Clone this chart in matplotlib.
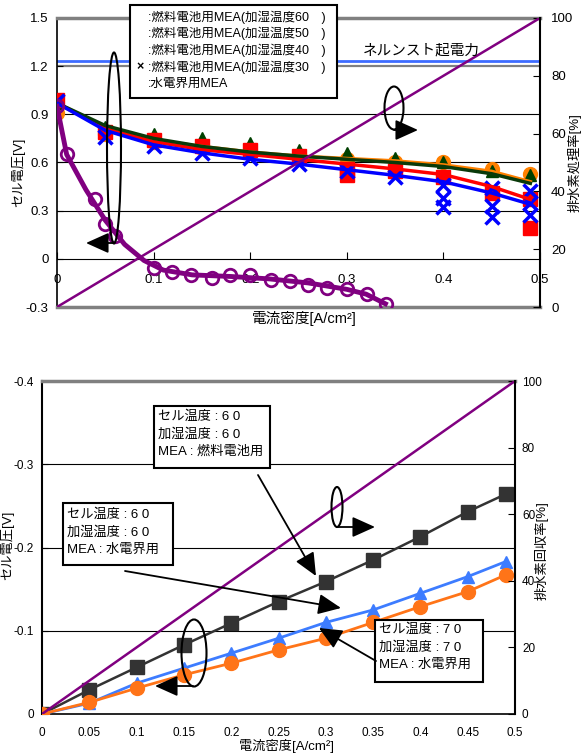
import numpy as np
import matplotlib.pyplot as plt
from matplotlib.patches import Ellipse, Rectangle, FancyArrowPatch

plt.rcParams['font.family'] = ['Liberation Sans', 'Noto Sans CJK JP']
plt.rcParams['axes.unicode_minus'] = False

W, H = 585, 756

# ---- top chart data: cell voltage vs current density ----
x_fc = [0, 0.05, 0.1, 0.15, 0.2, 0.25, 0.3, 0.35, 0.4, 0.45, 0.49]
v_hum60 = [0.91, 0.78, 0.73, 0.69, 0.67, 0.63, 0.62, 0.60, 0.60, 0.56, 0.53]
v_hum50 = [0.99, 0.79, 0.74, 0.70, 0.68, 0.64, 0.56, 0.55, 0.51, 0.41, 0.37]
v_hum40 = [0.97, 0.82, 0.78, 0.75, 0.72, 0.68, 0.66, 0.63, 0.60, 0.55, 0.52]
v_hum30 = [0.98, 0.76, 0.70, 0.66, 0.63, 0.59, 0.55, 0.51, 0.46, 0.44, 0.42]
# extra scattered points
x_hum50_extra = [0.3, 0.49]
v_hum50_extra = [0.52, 0.19]
x_hum30_extra = [0.4, 0.4, 0.45, 0.45, 0.49, 0.49]
v_hum30_extra = [0.38, 0.32, 0.33, 0.26, 0.35, 0.27]
# trend lines
fit_hum60 = [0.97, 0.82, 0.74, 0.70, 0.665, 0.64, 0.625, 0.61, 0.585, 0.545, 0.48]
fit_hum50 = [0.97, 0.81, 0.73, 0.68, 0.65, 0.62, 0.59, 0.56, 0.525, 0.45, 0.37]
fit_hum40 = [0.97, 0.83, 0.75, 0.70, 0.665, 0.64, 0.62, 0.60, 0.575, 0.53, 0.47]
fit_hum30 = [0.97, 0.80, 0.71, 0.66, 0.62, 0.59, 0.555, 0.52, 0.48, 0.41, 0.34]

x_we = [0, 0.01, 0.039, 0.05, 0.06, 0.1, 0.119, 0.139, 0.16, 0.179, 0.2,
        0.222, 0.241, 0.26, 0.28, 0.30, 0.321, 0.341]
v_we = [0.95, 0.65, 0.37, 0.22, 0.14, -0.06, -0.08, -0.10, -0.12, -0.10, -0.10,
        -0.13, -0.14, -0.16, -0.18, -0.19, -0.22, -0.28]
x_we_fit = [0, 0.01, 0.03, 0.05, 0.07, 0.09, 0.11, 0.14, 0.18, 0.22, 0.26, 0.30, 0.32, 0.34]
v_we_fit = [0.95, 0.65, 0.43, 0.24, 0.09, -0.01, -0.07, -0.10, -0.11, -0.125, -0.15,
            -0.19, -0.22, -0.28]

nernst = 1.23
x_rate = [0, 0.5]
rate = [0, 100]

legend_labels = [':燃料電池用MEA(加湿温度60\u3000)', ':燃料電池用MEA(加湿温度50\u3000)',
                 ':燃料電池用MEA(加湿温度40\u3000)', ':燃料電池用MEA(加湿温度30\u3000)',
                 ':水電界用MEA']

# ---- bottom chart data ----
x_b = [0, 0.05, 0.1, 0.15, 0.2, 0.25, 0.3, 0.35, 0.4, 0.45, 0.49]
v_fc6060 = [0, -0.029, -0.056, -0.083, -0.109, -0.135, -0.159, -0.185, -0.213, -0.243, -0.264]
v_we6060 = [0, -0.013, -0.037, -0.055, -0.073, -0.091, -0.110, -0.125, -0.145, -0.165, -0.183]
v_we7070 = [0, -0.014, -0.031, -0.047, -0.061, -0.077, -0.091, -0.110, -0.129, -0.147, -0.167]

box_texts = ['セル温度 : 6 0\n加湿温度 : 6 0\nMEA : 燃料電池用',
             'セル温度 : 6 0\n加湿温度 : 6 0\nMEA : 水電界用',
             'セル温度 : 7 0\n加湿温度 : 7 0\nMEA : 水電界用']

fig = plt.figure(figsize=(W / 100, H / 100), dpi=100)


def px_axes(l, t, r, b):
    return fig.add_axes([l / W, 1 - b / H, (r - l) / W, (b - t) / H])


# ================= top chart =================
ax1 = px_axes(57, 18, 540, 307)
ax1.set_xlim(0, 0.5)
ax1.set_ylim(-0.3, 1.5)
for y in [0.9, 0.6, 0.3]:
    ax1.axhline(y, color='black', lw=0.8, zorder=0)
ax1.axhline(1.2, color='#808080', lw=1.6, zorder=0)
ax1.axhline(-0.3, color='#808080', lw=2.5, clip_on=False, zorder=3)
ax1.axhline(nernst, color='#3d6bff', lw=2, zorder=1)

ax1.plot(x_fc, v_hum60, 'o', color='#ff8000', ms=10, zorder=2)
ax1.plot(x_fc, v_hum50, 's', color='#ff0000', ms=10, zorder=3)
ax1.plot(x_hum50_extra, v_hum50_extra, 's', color='#ff0000', ms=10, zorder=3)
ax1.plot(x_fc, v_hum40, '^', color='#004000', ms=8, zorder=2.5)
ax1.plot(x_fc, v_hum30, 'x', color='#0000ff', ms=10, mew=2.5, zorder=4)
ax1.plot(x_hum30_extra, v_hum30_extra, 'x', color='#0000ff', ms=10, mew=2.5, zorder=4)
ax1.plot(x_fc, fit_hum60, color='#ff8000', lw=2.5, zorder=5)
ax1.plot(x_fc, fit_hum50, color='#ff0000', lw=2.5, zorder=5)
ax1.plot(x_fc, fit_hum40, color='#0a3a0a', lw=2.5, zorder=5)
ax1.plot(x_fc, fit_hum30, color='#0000ff', lw=2.5, zorder=5)

ax1.plot(x_we_fit, v_we_fit, color='#800080', lw=3.5, zorder=6)
ax1.plot(x_we, v_we, 'o', mfc='none', mec='#800080', mew=2, ms=9, zorder=6)

ax1.spines['bottom'].set_position(('data', 0))
ax1.spines['top'].set_color('#808080')
ax1.spines['top'].set_linewidth(2.5)
ax1.spines['right'].set_visible(False)
ax1.spines['left'].set_linewidth(1.2)
ax1.set_xticks([0, 0.1, 0.2, 0.3, 0.4, 0.5])
ax1.set_xticklabels(['0', '0.1', '0.2', '0.3', '0.4', '0.5'])
ax1.set_yticks([-0.3, 0, 0.3, 0.6, 0.9, 1.2, 1.5])
ax1.set_yticklabels(['-0.3', '0', '0.3', '0.6', '0.9', '1.2', '1.5'])
ax1.tick_params(axis='x', direction='in', length=5, pad=11, labelsize=9.5)
ax1.tick_params(axis='y', direction='in', length=4, pad=6, labelsize=9.5)

ax1r = ax1.twinx()
ax1r.set_ylim(0, 100)
ax1r.plot(x_rate, rate, color='#800080', lw=1.8)
for s in ['top', 'bottom', 'left']:
    ax1r.spines[s].set_visible(False)
ax1r.spines['right'].set_linewidth(1.5)
ax1r.set_yticks([0, 20, 40, 60, 80, 100])
ax1r.tick_params(axis='y', direction='in', length=5, pad=8, labelsize=9.5)

# ================= bottom chart =================
ax2 = px_axes(42, 381, 515, 714)
ax2.set_xlim(0, 0.5)
ax2.set_ylim(0, -0.4)
for y in [-0.1, -0.2, -0.3]:
    ax2.axhline(y, color='black', lw=0.8, zorder=0)
ax2.plot(x_b, v_fc6060, '-s', color='#333333', lw=1.8, ms=10, zorder=3)
ax2.plot(x_b, v_we6060, '-^', color='#3d7cff', lw=2, ms=9, zorder=3)
ax2.plot(x_b, v_we7070, '-o', color='#ff7418', lw=2, ms=10, zorder=3)
ax2.spines['top'].set_color('#808080')
ax2.spines['top'].set_linewidth(2.5)
ax2.spines['right'].set_visible(False)
ax2.spines['left'].set_linewidth(1.5)
ax2.spines['bottom'].set_linewidth(1.2)
xt = [0, 0.05, 0.1, 0.15, 0.2, 0.25, 0.3, 0.35, 0.4, 0.45, 0.5]
ax2.set_xticks(xt)
ax2.set_xticklabels([f'{t:g}' for t in xt])
ax2.set_yticks([0, -0.1, -0.2, -0.3, -0.4])
ax2.set_yticklabels(['0', '-0.1', '-0.2', '-0.3', '-0.4'])
ax2.tick_params(axis='x', direction='in', length=0, pad=9, labelsize=8.5)
ax2.tick_params(axis='y', direction='in', length=4, pad=6, labelsize=8.5)

ax2r = ax2.twinx()
ax2r.set_ylim(0, 100)
ax2r.plot(x_rate, rate, color='#800080', lw=1.8)
for s in ['top', 'bottom', 'left']:
    ax2r.spines[s].set_visible(False)
ax2r.spines['right'].set_linewidth(1.5)
ax2r.set_yticks([0, 20, 40, 60, 80, 100])
ax2r.tick_params(axis='y', direction='in', length=5, pad=5, labelsize=8.5)

# ================= overlay (annotations, labels) =================
ov = fig.add_axes([0, 0, 1, 1], zorder=10)
ov.set_xlim(0, W)
ov.set_ylim(H, 0)
ov.axis('off')
ov.patch.set_alpha(0)


def arrow(p0, p1):
    ov.add_patch(FancyArrowPatch(p0, p1, arrowstyle='-|>,head_length=1.0,head_width=0.45',
                                 mutation_scale=14, color='black', lw=1.3,
                                 shrinkA=0, shrinkB=0))


def ellipse(cx, cy, w, h):
    ov.add_patch(Ellipse((cx, cy), w, h, fill=False, ec='black', lw=1.5))


# top annotations
ellipse(114, 148, 14, 191)
arrow((114, 243), (86, 243))
ellipse(394, 108, 19, 43)
arrow((394, 130), (418, 130))
ov.text(363, 50, 'ネルンスト起電力', fontsize=10.5, va='center', ha='left')

# legend box
ov.add_patch(Rectangle((130, 5), 207, 93, fill=True, fc='white', ec='black', lw=1.5))
for i, lab in enumerate(legend_labels):
    ov.text(148, 17 + i * 16.8, lab, fontsize=9, va='center', ha='left')
ov.text(140, 67, '×', fontsize=9, va='center', ha='center', fontweight='bold')

ov.text(18, 172, 'セル電圧[V]', rotation=90, fontsize=9.5, va='center', ha='center')
ov.text(575, 163, '排水素処理率[%]', rotation=90, fontsize=9.5, va='center', ha='center')
ov.text(304, 318, '電流密度[A/cm²]', fontsize=10.5, va='center', ha='center')

# bottom annotations
boxes = [(154, 406, 270, 468, 158, 417), (63, 503, 173, 565, 67, 515),
         (375, 620, 483, 682, 379, 630)]
for (l, t, r, b, tx, ty), txt in zip(boxes, box_texts):
    ov.add_patch(Rectangle((l, t), r - l, b - t, fill=True, fc='white', ec='black', lw=1.5))
    for j, line in enumerate(txt.split('\n')):
        ov.text(tx, ty + j * 17.5, line, fontsize=9.5, va='center', ha='left')

arrow((258, 475), (316, 576))
arrow((125, 571), (341, 608))
arrow((376, 661), (319, 628))
ellipse(194, 653, 25, 67)
arrow((193, 686), (155, 686))
ellipse(337, 507, 11, 40)
arrow((337, 527), (375, 527))

ov.text(7, 545, 'セル電圧[V]', rotation=90, fontsize=9.5, va='center', ha='center')
ov.text(542, 551, '排水素回収率[%]', rotation=90, fontsize=9.5, va='center', ha='center')
ov.text(286, 746, '電流密度[A/cm²]', fontsize=9.5, va='center', ha='center')

fig.savefig('out.png', dpi=100)
